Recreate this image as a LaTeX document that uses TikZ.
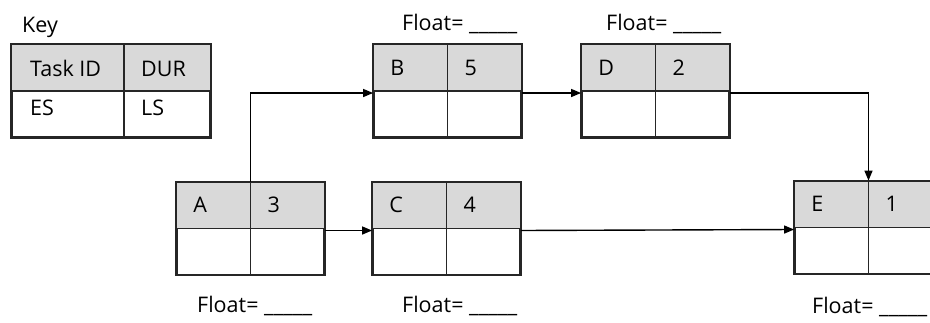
\documentclass[tikz,border=0pt]{standalone}
\usepackage{fontspec}
\setmainfont{Open Sans}
\usetikzlibrary{arrows.meta,calc}
\definecolor{cellgray}{HTML}{D9D9D9}
\definecolor{edgegray}{HTML}{262626}
\tikzset{
  taskbox/.style={draw=edgegray, line width=1.8pt, minimum width=147pt, minimum height=92pt, inner sep=0pt, fill=white},
  keybox/.style={taskbox, minimum width=198pt},
  cell/.style={anchor=base west, inner sep=0pt, font=\fontsize{21.5pt}{26pt}\selectfont},
  floatlbl/.style={anchor=base west, inner sep=0pt, font=\fontsize{21.5pt}{26pt}\selectfont},
  conn/.style={draw=black, line width=1.4pt, -{Triangle[length=10pt,width=8pt]}},
}
\newcommand{\mktask}[5]{%
  \node[taskbox] (#1) at (#2) {};
  \fill[cellgray] (#1.north west) rectangle (#1.east);
  \draw[edgegray, line width=1.8pt] (#1.west) -- (#1.east);
  \draw[edgegray, line width=1.8pt] (#1.north) -- (#1.south);
  \draw[edgegray, line width=1.8pt] (#1.north west) rectangle (#1.south east);
  \node[cell] (#1id) at ($(#1.north west)+(17pt,-31pt)$) {#4};
  \node[cell] (#1dur) at ($(#1.north)+(17pt,-31pt)$) {#5};
}
\begin{document}
\begin{tikzpicture}[x=1pt,y=-1pt]
\useasboundingbox (0,0) rectangle (930,322);
\clip (0,0) rectangle (930,322);
% key
\node[floatlbl] (keylbl) at (22,32) {Key};
\node[keybox] (key) at (111,91) {};
\fill[cellgray] (key.north west) rectangle (key.east);
\coordinate (keydivt) at (124,45);
\coordinate (keydivb) at (124,137);
\draw[edgegray, line width=1.8pt] (key.west) -- (key.east);
\draw[edgegray, line width=1.8pt] (keydivt) -- (keydivb);
\draw[edgegray, line width=1.8pt] (key.north west) rectangle (key.south east);
\node[cell] (keyid) at (30,76) {Task ID};
\node[cell] (keydur) at (141,76) {DUR};
\node[cell] (keyes) at (30,115) {ES};
\node[cell] (keyls) at (141,115) {LS};
% tasks
\mktask{A}{250.5,228.5}{A}{A}{3}
\mktask{B}{447.5,91}{B}{B}{5}
\mktask{C}{446.5,228.5}{C}{C}{4}
\mktask{D}{655.5,91}{D}{D}{2}
\mktask{E}{868.5,227.5}{E}{E}{1}
% connectors
\draw[conn] (A.north) |- ($(B.west)+(0,2)$);
\draw[conn] ($(B.east)+(0,2)$) -- ($(D.west)+(0,2)$);
\draw[conn] ($(D.east)+(0,2)$) -| (E.north);
\draw[conn] ($(A.east)+(0,2)$) -- ($(C.west)+(0,2)$);
\draw[conn] ($(C.east)+(0,2)$) -- ($(E.west)+(0,2)$);
% floats
\node[floatlbl] (fB) at (402,30) {Float= \_\_\_\_\_};
\node[floatlbl] (fD) at (606,30) {Float= \_\_\_\_\_};
\node[floatlbl] (fA) at (197,312) {Float= \_\_\_\_\_};
\node[floatlbl] (fC) at (402,312) {Float= \_\_\_\_\_};
\node[floatlbl] (fE) at (812,313) {Float= \_\_\_\_\_};
\end{tikzpicture}
\end{document}
